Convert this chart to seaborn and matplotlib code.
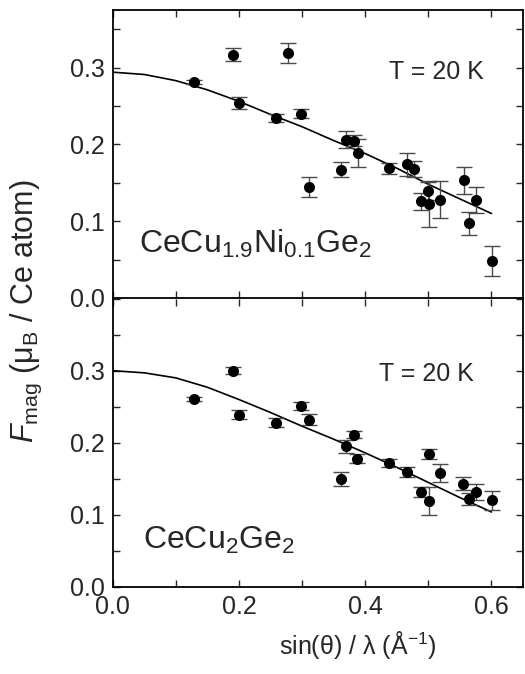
import numpy as np
import pandas as pd
import seaborn as sns
import matplotlib.pyplot as plt
from matplotlib.ticker import MultipleLocator

# CeCu1.9Ni0.1Ge2 (top panel)
q_ni = [0.129, 0.191, 0.200, 0.259, 0.277, 0.299, 0.311, 0.361, 0.369, 0.383, 0.388,
        0.437, 0.466, 0.477, 0.489, 0.500, 0.5015, 0.518, 0.556, 0.565, 0.576, 0.601]
f_ni = [0.281, 0.317, 0.254, 0.234, 0.319, 0.240, 0.144, 0.167, 0.206, 0.205, 0.189,
        0.169, 0.174, 0.168, 0.126, 0.139, 0.122, 0.128, 0.153, 0.097, 0.128, 0.048]
err_ni = [0.003, 0.008, 0.008, 0.005, 0.013, 0.006, 0.013, 0.010, 0.011, 0.007, 0.018,
          0.007, 0.015, 0.010, 0.011, 0.012, 0.030, 0.024, 0.018, 0.015, 0.017, 0.020]

# CeCu2Ge2 (bottom panel)
q_cu = [0.129, 0.191, 0.200, 0.259, 0.299, 0.311, 0.361, 0.370, 0.383, 0.387,
        0.437, 0.467, 0.489, 0.5006, 0.5015, 0.518, 0.555, 0.565, 0.576, 0.601]
f_cu = [0.261, 0.300, 0.239, 0.228, 0.251, 0.232, 0.150, 0.195, 0.211, 0.178,
        0.172, 0.160, 0.132, 0.184, 0.119, 0.158, 0.143, 0.122, 0.132, 0.120]
err_cu = [0.003, 0.005, 0.006, 0.006, 0.005, 0.008, 0.010, 0.009, 0.005, 0.006,
          0.006, 0.007, 0.007, 0.007, 0.019, 0.013, 0.009, 0.008, 0.011, 0.013]

# fitted form factor curves
q_fit = [0.0, 0.05, 0.10, 0.15, 0.20, 0.25, 0.30, 0.35, 0.40, 0.45, 0.50, 0.55, 0.60]
fit_ni = [0.294, 0.291, 0.283, 0.271, 0.256, 0.239, 0.223, 0.205, 0.188, 0.169, 0.148, 0.129, 0.110]
fit_cu = [0.300, 0.297, 0.290, 0.277, 0.260, 0.242, 0.223, 0.205, 0.186, 0.166, 0.145, 0.124, 0.104]

sns.set_style('ticks')
plt.rcParams['font.family'] = ['Liberation Sans', 'DejaVu Sans']
plt.rcParams['mathtext.fontset'] = 'custom'
plt.rcParams['mathtext.rm'] = 'Liberation Sans'
plt.rcParams['mathtext.it'] = 'Liberation Sans:italic'
plt.rcParams['mathtext.bf'] = 'Liberation Sans:bold'

fig = plt.figure(figsize=(5.25, 6.74), dpi=100)
ax_top = fig.add_axes([0.2147, 0.5579, 0.7815, 0.4273])
ax_bot = fig.add_axes([0.2147, 0.1291, 0.7815, 0.4279])

panels = [
    (ax_top, q_ni, f_ni, err_ni, fit_ni, 0.375, r'CeCu$_{1.9}$Ni$_{0.1}$Ge$_2$', (0.064, 0.155), (0.79, 0.785)),
    (ax_bot, q_cu, f_cu, err_cu, fit_cu, 0.40, r'CeCu$_2$Ge$_2$', (0.075, 0.133), (0.765, 0.737)),
]

for ax, q, f, err, fit, ytop, name, name_pos, t_pos in panels:
    df = pd.DataFrame({'q': q, 'F': f, 'err': err})
    fit_df = pd.DataFrame({'q': q_fit, 'F': fit})
    sns.lineplot(data=fit_df, x='q', y='F', ax=ax, color='black', lw=1.2)
    ax.errorbar(df['q'], df['F'], yerr=df['err'], fmt='none', ecolor='#4a4a4a',
                elinewidth=1, capsize=6, capthick=1, zorder=3)
    sns.scatterplot(data=df, x='q', y='F', ax=ax, color='black', s=64,
                    edgecolor='black', linewidth=0, zorder=4)
    ax.set_xlim(0, 0.65)
    ax.set_ylim(0, ytop)
    ax.xaxis.set_major_locator(MultipleLocator(0.2))
    ax.xaxis.set_minor_locator(MultipleLocator(0.1))
    ax.yaxis.set_major_locator(MultipleLocator(0.1))
    ax.yaxis.set_minor_locator(MultipleLocator(0.05))
    ax.tick_params(which='both', direction='in', top=True, right=True,
                   length=5, width=1, labelsize=18, pad=6)
    for sp in ax.spines.values():
        sp.set_visible(True)
        sp.set_linewidth(1.3)
        sp.set_color('black')
    ax.set_xlabel('')
    ax.set_ylabel('')
    ax.text(name_pos[0], name_pos[1], name, transform=ax.transAxes,
            fontsize=23, ha='left', va='baseline')
    ax.text(t_pos[0], t_pos[1], 'T = 20 K', transform=ax.transAxes,
            fontsize=18, ha='center', va='center')

ax_bot.spines['top'].set_visible(False)
ax_top.tick_params(labelbottom=False)
ax_bot.set_yticks([0.0, 0.1, 0.2, 0.3])
ax_top.yaxis.set_major_formatter(plt.FormatStrFormatter('%.1f'))
ax_bot.yaxis.set_major_formatter(plt.FormatStrFormatter('%.1f'))
ax_bot.xaxis.set_major_formatter(plt.FormatStrFormatter('%.1f'))
ax_bot.yaxis.set_minor_locator(MultipleLocator(0.05))

fig.text(0.682, 0.043, 'sin(θ) / λ (Å$^{-1}$)', fontsize=18,
         ha='center', va='center')
fig.text(0.051, 0.539, r'$F_{\rm mag}$ (μ$_{\rm B}$ / Ce atom)', fontsize=22,
         rotation=90, ha='center', va='center')

fig.savefig('out.png', dpi=100)
